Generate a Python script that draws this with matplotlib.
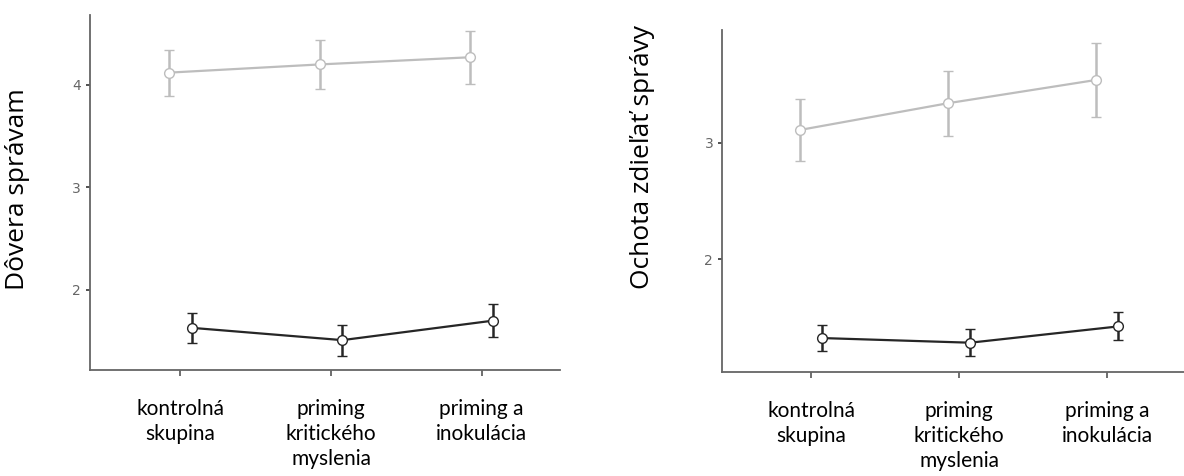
import numpy as np
import matplotlib
matplotlib.use("Agg")
import matplotlib.pyplot as plt

# kategorie na osi x
skupiny = ["kontrolná\nskupina", "priming\nkritického\nmyslenia", "priming a\ninokulácia"]

# Dôvera správam (lavý graf)
dov_siva = [4.12, 4.20, 4.27]
dov_siva_err = [0.225, 0.235, 0.26]
dov_cierna = [1.63, 1.51, 1.70]
dov_cierna_err = [0.145, 0.15, 0.16]

# Ochota zdieľať správy (pravý graf)
och_siva = [3.11, 3.34, 3.54]
och_siva_err = [0.27, 0.28, 0.315]
och_cierna = [1.32, 1.28, 1.42]
och_cierna_err = [0.115, 0.115, 0.12]

SIVA = "#bdbdbd"
CIERNA = "#262626"

fig = plt.figure(figsize=(11.84, 4.76), dpi=100)
ax1 = fig.add_axes([0.076, 0.223, 0.397, 0.745])
ax2 = fig.add_axes([0.610, 0.218, 0.390, 0.719])

x = np.arange(len(skupiny))
posun = 0.075


def kresli(ax, siva, siva_err, cierna, cierna_err, popis, ylim, yticks):
    for hodnoty, chyby, farba, dx in [(siva, siva_err, SIVA, -posun),
                                     (cierna, cierna_err, CIERNA, posun)]:
        ax.errorbar(x + dx, hodnoty, yerr=chyby, color=farba, lw=1.6,
                    elinewidth=1.8, capsize=3.4, capthick=1.8,
                    marker="o", ms=7, mfc="white", mec=farba, mew=1.0)
    ax.set_xlim(-0.6, 2.52)
    ax.set_ylim(*ylim)
    ax.set_yticks(yticks)
    ax.set_xticks(x)
    ax.set_xticklabels(skupiny, fontsize=15, family="Lato", linespacing=1.3)
    ax.tick_params(axis="y", labelsize=10, labelcolor="#666666", color="#333333",
                   length=3, width=1.2)
    ax.tick_params(axis="x", color="#555555", length=4, width=1.2, pad=17)
    ax.set_ylabel(popis, fontsize=19, family="Open Sans")
    for s in ["top", "right"]:
        ax.spines[s].set_visible(False)
    for s in ["left", "bottom"]:
        ax.spines[s].set_color("#666666")
        ax.spines[s].set_linewidth(1.3)


kresli(ax1, dov_siva, dov_siva_err, dov_cierna, dov_cierna_err,
       "Dôvera správam", (1.22, 4.68), [2, 3, 4])
ax1.yaxis.set_label_coords(-0.128, 0.51)

kresli(ax2, och_siva, och_siva_err, och_cierna, och_cierna_err,
       "Ochota zdieľať správy", (1.026, 3.97), [2, 3])
ax2.yaxis.set_label_coords(-0.145, 0.63)

fig.savefig("out.png", dpi=100)
